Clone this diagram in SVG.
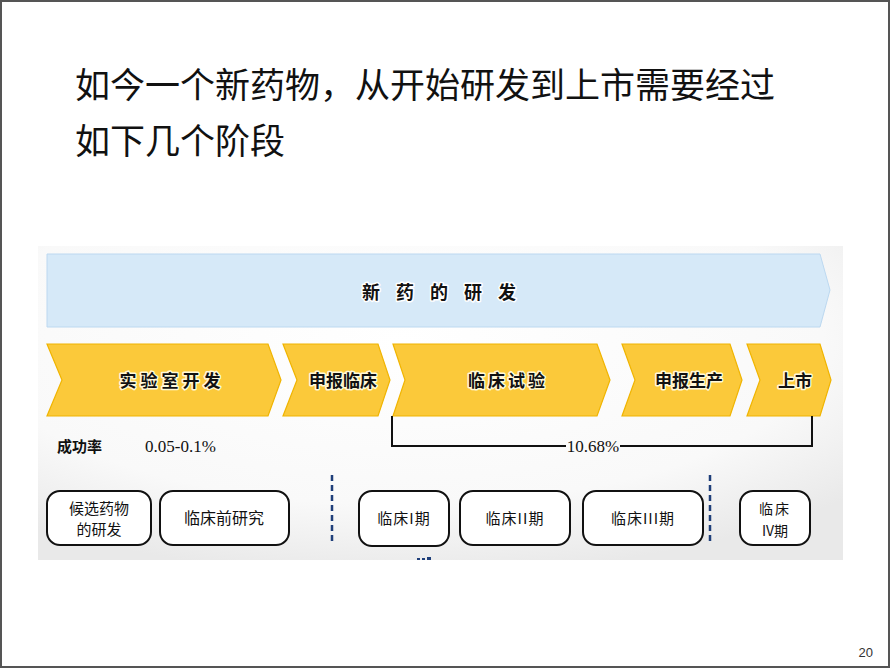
<svg xmlns="http://www.w3.org/2000/svg" width="890" height="668" viewBox="0 0 890 668">
<defs>
<radialGradient id="panelGrad" cx="0.45" cy="0.3" r="0.75">
<stop offset="0" stop-color="#ffffff"/>
<stop offset="0.7" stop-color="#f9f9f9"/>
<stop offset="1" stop-color="#e9e9e9"/>
</radialGradient>
<style>
.title{font-family:"Noto Sans CJK SC","Noto Sans",sans-serif;font-size:35px;fill:#111}
.chev{fill:#fbc93a;stroke:#f0b400;stroke-width:1.2}
.chevtxt{font-family:"Noto Sans CJK SC",sans-serif;font-weight:700;font-size:17px;fill:#111;stroke:#fff8d8;stroke-width:3;paint-order:stroke;stroke-linejoin:round;text-anchor:middle}
.ban{fill:#d6e9f8;stroke:#bcd8f0;stroke-width:1}
.bantxt{font-family:"Noto Sans CJK SC",sans-serif;font-weight:700;font-size:18px;fill:#111;stroke:#fff;stroke-width:3;paint-order:stroke;stroke-linejoin:round;letter-spacing:16px}
.box{fill:#fff;stroke:#111;stroke-width:2}
.boxtxt{font-family:"Noto Sans CJK SC",sans-serif;font-size:16px;fill:#111;text-anchor:middle}
.serif{font-family:"Liberation Serif","Noto Sans CJK SC",serif;font-size:17px;fill:#111}
.dash{stroke:#1f3f7a;stroke-width:2.5;stroke-dasharray:6,4;fill:none}
.bracket{stroke:#111;stroke-width:2;fill:none}
</style>
</defs>
<rect x="1" y="1" width="888" height="666" fill="#fff" stroke="#555" stroke-width="2"/>
<g id="title">
<text class="title" x="75" y="98">如今一个新药物，从开始研发到上市需要经过</text>
<text class="title" x="75" y="154">如下几个阶段</text>
</g>
<rect id="panel" x="38" y="246" width="805" height="314" fill="url(#panelGrad)"/>
<g id="banner">
<polygon class="ban" points="47,254 820,254 830,290 820,327 47,327"/>
<text class="bantxt" x="362" y="299">新药的研发</text>
</g>
<g id="stage1">
<polygon class="chev" points="47,344 268,344 281,380 268,416 47,416 62,380"/>
<text class="chevtxt" x="172" y="387" style="letter-spacing:4px">实验室开发</text>
</g>
<g id="stage2">
<polygon class="chev" points="283,344 378,344 390,380 378,416 283,416 297,380"/>
<text class="chevtxt" x="343" y="387">申报临床</text>
</g>
<g id="stage3">
<polygon class="chev" points="393,344 597,344 610,380 597,416 393,416 405,380"/>
<text class="chevtxt" x="508" y="387" style="letter-spacing:3px">临床试验</text>
</g>
<g id="stage4">
<polygon class="chev" points="622,344 730,344 742,380 730,416 622,416 635,380"/>
<text class="chevtxt" x="689" y="387">申报生产</text>
</g>
<g id="stage5">
<polygon class="chev" points="747,344 820,344 831,380 820,416 747,416 760,380"/>
<text class="chevtxt" x="795" y="387">上市</text>
</g>
<g id="rates">
<text x="57" y="452" style="font-family:'Noto Sans CJK SC',sans-serif;font-weight:700;font-size:15px;fill:#111">成功率</text>
<text class="serif" x="145" y="452">0.05-0.1%</text>
<polyline class="bracket" points="392,416 392,446 566,446"/>
<polyline class="bracket" points="620,446 812,446 812,416"/>
<text class="serif" x="593" y="452" text-anchor="middle">10.68%</text>
</g>
<g id="connectors">
<line class="dash" x1="332" y1="475" x2="332" y2="545"/>
<line class="dash" x1="710" y1="475" x2="710" y2="545"/>
</g>
<g id="box1">
<rect class="box" x="47" y="491" width="104" height="54" rx="13"/>
<text class="boxtxt" x="99" y="514" style="font-size:15px">候选药物</text>
<text class="boxtxt" x="99" y="535" style="font-size:15px">的研发</text>
</g>
<g id="box2">
<rect class="box" x="160" y="491" width="129" height="54" rx="13"/>
<text class="boxtxt" x="224" y="524">临床前研究</text>
</g>
<g id="box3">
<rect class="box" x="359" y="491" width="90" height="55" rx="13"/>
<text class="boxtxt" x="404" y="524" style="font-size:15px;letter-spacing:1px">临床I期</text>
</g>
<g id="box4">
<rect class="box" x="460" y="491" width="110" height="54" rx="13"/>
<text class="boxtxt" x="515" y="524" style="font-size:15px;letter-spacing:1px">临床II期</text>
</g>
<g id="box5">
<rect class="box" x="583" y="491" width="120" height="54" rx="13"/>
<text class="boxtxt" x="643" y="524" style="font-size:15px;letter-spacing:1px">临床III期</text>
</g>
<g id="box6">
<rect class="box" x="740" y="491" width="70" height="54" rx="13"/>
<text class="boxtxt" x="775" y="514" style="font-size:14px;letter-spacing:2px">临床</text>
<text class="boxtxt" x="775" y="536" style="font-size:14px">IV期</text>
</g>
<g id="fragment" fill="#1f3f7a">
<rect x="417" y="558" width="3" height="2"/>
<rect x="422" y="558" width="3" height="2"/>
<rect x="427" y="557" width="4" height="3"/>
</g>
<text x="873" y="657" text-anchor="end" style="font-family:'Liberation Sans',sans-serif;font-size:13px;fill:#333">20</text>
</svg>
